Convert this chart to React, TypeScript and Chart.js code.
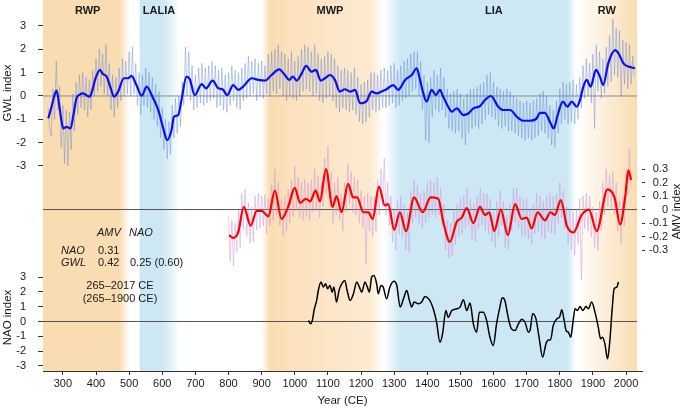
import React, { useEffect, useRef } from 'react';
import { Chart, registerables } from 'chart.js';
Chart.register(...registerables);

const FONT = '"Liberation Sans", Arial, Helvetica, sans-serif';

// ---------- axis ticks ----------
const xTicks = [300, 400, 500, 600, 700, 800, 900, 1000, 1100, 1200, 1300, 1400, 1500, 1600, 1700, 1800, 1900, 2000];
const gwlTicks = [-3, -2, -1, 0, 1, 2, 3];
const amvTicks = [-0.3, -0.2, -0.1, 0, 0.1, 0.2, 0.3];
const naoTicks = [-3, -2, -1, 0, 1, 2, 3];

// ---------- periods ----------
const periodNames = ['RWP', 'LALIA', 'MWP', 'LIA', 'RW'];
const periodLabelYears = [375, 590, 1106, 1601, 1942];
const bandKinds = ['warm', 'cold', 'warm', 'cold', 'warm'];
const bandStopYears = [
  [240, 470, 502],
  [532, 600, 655],
  [900, 925, 990, 1230, 1265],
  [1272, 1318, 1825, 1848],
  [1848, 2033],
];
const bandStopAlpha = [
  [1, 1, 0],
  [1, 1, 0],
  [0, 1, 0.85, 0.6, 0],
  [0, 1, 1, 0],
  [0, 1],
];
const zeroLineYears = [240, 2033];

// ---------- GWL smoothed (year, value) ----------
const gwlSmooth: [number, number][] = [
  [256, -0.96], [266, -0.45], [274, 0.0], [281, 0.23], [288, -0.3], [295, -1.0], [301, -1.39], [311, -1.32], [323, -1.39], [332, -0.8],
  [341, -0.1], [351, 0.06], [361, 0.11], [371, 0.03], [381, -0.03], [389, 0.25], [397, 0.69], [412, 1.12], [420, 0.95], [432, 0.83],
  [443, 0.4], [454, -0.03], [467, 0.19], [484, 0.76], [497, 0.76], [507, 0.86], [522, 0.47], [538, 0.01], [553, 0.4], [568, 0.04],
  [588, -0.6], [603, -1.39], [615, -1.89], [628, -1.46], [635, -0.89], [648, -0.82], [658, -0.17], [673, 0.83], [683, 0.72], [698, 0.04],
  [719, 0.51], [732, 0.33], [752, 0.66], [769, 0.33], [782, 0.29], [796, 0.04], [814, 0.47], [829, 0.26], [844, 0.4], [870, 0.76],
  [890, 0.69], [910, 0.66], [930, 0.9], [953, 1.14], [970, 0.9], [983, 0.69], [994, 0.83], [1006, 0.66], [1021, 0.97], [1034, 1.29],
  [1051, 1.04], [1064, 1.12], [1078, 0.66], [1091, 0.76], [1106, 0.9], [1121, 0.69], [1136, 0.19], [1151, 0.29], [1167, 0.19], [1182, 0.26],
  [1197, -0.31], [1217, -0.21], [1232, 0.19], [1247, 0.11], [1262, 0.19], [1277, 0.29], [1297, 0.47], [1312, 0.26], [1333, 0.69], [1353, 0.9],
  [1368, 1.19], [1378, 0.69], [1388, 0.11], [1398, -0.24], [1413, 0.26], [1426, 0.04], [1438, 0.26], [1447, 0.0], [1463, -0.46], [1474, -0.67],
  [1489, -0.53], [1509, -0.82], [1524, -0.75], [1539, -0.53], [1559, -0.43], [1574, -0.17], [1592, 0.0], [1614, -0.46], [1629, -0.6], [1650, -0.6],
  [1670, -0.89], [1690, -1.06], [1710, -1.06], [1730, -0.96], [1740, -0.72], [1755, -0.72], [1772, -1.17], [1782, -1.39], [1792, -0.89], [1809, -0.24],
  [1823, -0.46], [1836, -0.24], [1851, -0.46], [1861, -0.17], [1871, 0.4], [1881, 0.69], [1893, 0.4], [1909, 1.12], [1921, 0.83], [1931, 0.47],
  [1946, 1.4], [1967, 1.97], [1977, 1.83], [1992, 1.4], [2007, 1.26], [2027, 1.19],
];

// ---------- GWL raw, 5-year readings ----------
const gwlRaw255 = [
  -0.5, -1.4, -1.7, 0.3, -1.0, 1.5, -0.6, 0.4, -2.2, -0.4,
  -2.9, -0.6, -3.0, -0.7, -2.3, 0.1, -1.5, 0.6, -0.8, 0.9,
  -0.5, 1.0, -0.6, 0.8, -0.9, 0.7, -0.6, 1.1, 0.0,
];
const gwlRaw400 = [
  1.6, 0.2, 2.0, 0.4, 1.8, 0.1, 2.2, 0.0, 1.4, -0.6,
  0.9, -0.9, 0.8, -0.5, 1.2, -0.2, 1.6, 0.0, 1.5, 0.1,
  1.9, 0.0, 2.1, 0.1, 1.4, -0.4, 1.0, -0.8, 0.9, -0.4,
  1.2, -0.5, 1.0, -0.7, 0.8, -1.0, 0.5, -1.3, 0.2, -1.8,
];
const gwlRaw600 = [
  -0.5, -2.3, -1.0, -2.7, -1.1, -2.5, -0.4, -1.8, -0.1, -1.6,
  0.0, -1.3, 0.6, -0.4, 2.1, 0.0, 1.9, -0.2, 1.3, -0.6,
  0.9, -0.5, 1.2, -0.3, 1.4, -0.4, 1.2, -0.3, 1.3, -0.2,
  1.5, -0.1, 1.3, -0.5, 1.1, -0.4, 1.2, -0.6, 0.9, -0.7,
];
const gwlRaw800 = [
  1.0, -0.4, 1.3, -0.2, 1.1, -0.5, 1.0, -0.6, 1.2, -0.2,
  1.4, -0.1, 1.7, 0.0, 1.5, 0.1, 1.6, -0.2, 1.4, 0.0,
  1.5, -0.1, 1.3, 0.1, 1.8, 0.0, 1.9, 0.2, 2.0, 0.1,
  2.2, 0.3, 1.9, 0.0, 1.8, -0.2, 1.6, 0.0, 1.9, -0.1,
];
const gwlRaw1000 = [
  1.5, -0.2, 1.7, 0.0, 2.0, 0.2, 2.2, 0.3, 2.1, 0.2,
  1.9, 0.0, 2.2, 0.1, 1.8, -0.2, 1.6, -0.3, 1.7, -0.1,
  1.9, 0.0, 1.8, -0.2, 1.6, -0.5, 1.3, -0.7, 1.1, -0.5,
  1.2, -0.6, 1.1, -0.7, 1.0, -0.6, 1.2, -0.8, 0.8, -1.1,
];
const gwlRaw1200 = [
  0.5, -1.2, 0.6, -1.1, 0.7, -0.9, 1.0, -0.6, 1.0, -0.7,
  0.9, -0.6, 1.1, -0.5, 1.2, -0.5, 1.1, -0.4, 1.3, -0.3,
  1.4, -0.5, 1.1, -0.4, 1.3, -0.2, 1.5, -0.1, 1.6, 0.0,
  1.8, 0.2, 1.9, 0.3, 1.9, 0.0, 1.5, -0.6, 0.9, -1.9,
];
const gwlRaw1400 = [
  0.6, -2.0, 0.8, -0.9, 1.1, -0.6, 0.9, -0.7, 1.2, -0.6,
  0.8, -0.9, 0.3, -1.4, 0.1, -1.5, 0.2, -1.6, 0.3, -1.5,
  0.1, -1.8, -0.1, -2.1, 0.1, -1.6, 0.3, -1.4, 0.3, -1.3,
  0.4, -1.4, 0.5, -1.2, 0.6, -1.0, 0.9, -0.8, 1.0, -0.9,
];
const gwlRaw1600 = [
  0.6, -1.0, 0.4, -1.3, 0.3, -1.4, 0.2, -1.3, 0.3, -1.5,
  0.2, -1.5, 0.0, -1.6, -0.1, -1.7, -0.2, -1.8, -0.3, -1.9,
  -0.2, -1.8, -0.3, -1.9, -0.2, -1.8, -0.1, -1.7, 0.1, -1.5,
  0.2, -1.6, 0.0, -1.8, -0.4, -2.1, -0.6, -2.2, -0.2, -1.6,
];
const gwlRaw1800 = [
  0.3, -1.2, 0.6, -1.0, 0.5, -1.2, 0.6, -1.1, 0.7, -1.2,
  0.5, -1.0, 0.8, -0.5, 1.3, -0.1, 1.6, 0.0, 1.4, -0.3,
  1.8, -1.4, 2.2, 0.2, 1.9, -0.1, 1.6, 0.1, 2.1, 0.4,
  2.6, 0.6, 3.3, 0.9, 2.9, 0.8, 2.8, 0.0, 2.4, 0.5,
  2.3, 0.3, 2.2, 0.5, 1.7, 0.8,
];

// ---------- AMV smoothed (year, value) ----------
const amvSmooth: [number, number][] = [
  [802, -0.19], [814, -0.21], [829, -0.17], [846, 0.02], [867, -0.12], [885, -0.01], [900, -0.01], [920, -0.05], [940, 0.14], [960, -0.07],
  [980, 0.02], [1000, 0.16], [1016, 0.05], [1034, 0.08], [1046, 0.06], [1063, 0.14], [1076, 0.06], [1094, 0.3], [1114, 0.02], [1126, 0.1],
  [1141, -0.02], [1161, 0.19], [1176, 0.09], [1188, 0.09], [1207, -0.02], [1222, -0.02], [1235, -0.07], [1254, 0.17], [1272, 0.03], [1282, 0.04],
  [1300, -0.15], [1317, -0.02], [1336, -0.16], [1360, 0.09], [1386, -0.02], [1410, 0.09], [1433, 0.08], [1448, -0.09], [1468, -0.24], [1489, -0.09],
  [1504, -0.06], [1519, 0.01], [1539, -0.1], [1559, 0.02], [1574, -0.04], [1587, -0.02], [1602, -0.16], [1622, 0.0], [1643, -0.19], [1665, 0.04],
  [1685, -0.07], [1700, -0.06], [1715, -0.14], [1733, -0.02], [1755, -0.08], [1772, -0.02], [1785, -0.04], [1803, 0.07], [1821, -0.12], [1841, -0.17],
  [1866, -0.04], [1888, 0.0], [1911, -0.16], [1944, 0.15], [1965, 0.09], [1982, -0.11], [1997, 0.09], [2007, 0.29], [2015, 0.22],
];

// ---------- AMV raw, 5-year readings ----------
const amvRaw800 = [
  -0.05, -0.38, -0.08, -0.42, -0.1, -0.32, 0.0, -0.28, 0.12, -0.15,
  0.15, -0.2, 0.05, -0.25, 0.02, -0.24, 0.1, -0.15, 0.12, -0.14,
  0.1, -0.12, 0.11, -0.18, 0.08, -0.12, 0.18, -0.08, 0.3, -0.04,
  0.2, -0.12, 0.08, -0.2, 0.1, -0.16, 0.15, -0.1, 0.22, -0.05,
];
const amvRaw1000 = [
  0.32, 0.0, 0.24, -0.06, 0.2, -0.08, 0.22, -0.05, 0.2, -0.08,
  0.22, -0.02, 0.3, 0.0, 0.25, -0.06, 0.2, 0.02, 0.38, 0.12,
  0.47, 0.1, 0.28, -0.1, 0.2, -0.04, 0.24, -0.08, 0.12, -0.16,
  0.2, -0.02, 0.34, 0.04, 0.28, -0.02, 0.24, -0.04, 0.22, -0.1,
];
const amvRaw1200 = [
  0.14, -0.14, 0.1, -0.4, 0.12, -0.16, 0.1, -0.2, 0.1, -0.16,
  0.22, -0.04, 0.3, 0.02, 0.38, -0.04, 0.2, -0.12, 0.1, -0.24,
  0.0, -0.3, 0.06, -0.18, 0.1, -0.2, 0.04, -0.3, -0.02, -0.32,
  0.14, -0.1, 0.22, -0.06, 0.18, -0.1, 0.12, -0.14, 0.14, -0.1,
];
const amvRaw1400 = [
  0.2, -0.06, 0.22, -0.04, 0.2, -0.06, 0.24, -0.04, 0.16, -0.12,
  0.04, -0.3, -0.08, -0.36, -0.1, -0.34, 0.0, -0.26, 0.04, -0.2,
  0.08, -0.18, 0.1, -0.14, 0.16, -0.12, 0.08, -0.22, 0.04, -0.24,
  0.1, -0.14, 0.16, -0.12, 0.12, -0.16, 0.12, -0.18, 0.08, -0.24,
];
const amvRaw1600 = [
  -0.02, -0.28, 0.06, -0.2, 0.14, -0.12, 0.06, -0.28, -0.04, -0.3,
  0.04, -0.16, 0.16, -0.1, 0.16, -0.14, 0.1, -0.2, 0.08, -0.2,
  0.08, -0.22, 0.0, -0.26, 0.04, -0.18, 0.12, -0.16, 0.1, -0.2,
  0.06, -0.22, 0.1, -0.16, 0.12, -0.18, 0.1, -0.18, 0.12, -0.1,
];
const amvRaw1800 = [
  0.2, -0.06, 0.14, -0.14, 0.02, -0.26, 0.0, -0.3, -0.02, -0.34,
  0.0, -0.26, 0.08, -0.52, 0.1, -0.14, 0.12, -0.16, 0.1, -0.2,
  0.02, -0.28, -0.02, -0.3, 0.06, -0.16, 0.2, -0.04, 0.3, 0.02,
  0.26, 0.0, 0.28, -0.04, 0.2, -0.16, 0.06, -0.26, 0.1, -0.12,
  0.3, 0.1, 0.45, 0.16,
];

// ---------- NAO (year, value) ----------
const naoSeries: [number, number][] = [
  [1041, 0.07], [1048, -0.16], [1054, 0.18], [1058, 0.74], [1066, 1.42], [1071, 2.09], [1079, 2.66], [1086, 2.32], [1093, 2.55], [1099, 2.21],
  [1106, 2.43], [1113, 1.98], [1118, 2.32], [1126, 1.31], [1134, 2.14], [1143, 2.59], [1151, 2.77], [1158, 2.09], [1167, 1.42], [1177, 1.87],
  [1187, 2.66], [1195, 2.32], [1202, 1.98], [1212, 2.66], [1219, 2.32], [1225, 1.98], [1232, 2.99], [1239, 3.1], [1247, 2.55], [1252, 1.87],
  [1260, 2.43], [1267, 2.32], [1277, 1.53], [1287, 2.32], [1299, 2.72], [1308, 2.43], [1318, 0.97], [1328, 1.53], [1338, 2.09], [1346, 1.42],
  [1353, 0.97], [1360, 1.31], [1373, 1.19], [1383, 1.31], [1393, 1.69], [1406, 1.47], [1418, 0.86], [1428, -0.05], [1438, -1.4], [1446, -0.83],
  [1456, 0.74], [1463, 0.29], [1474, 0.74], [1489, 0.86], [1499, 0.97], [1509, 1.47], [1519, 0.74], [1529, 1.24], [1539, -0.16], [1549, -0.72],
  [1557, 0.63], [1569, 0.63], [1579, 0.07], [1589, -1.06], [1599, -1.62], [1609, -0.16], [1619, 0.97], [1626, 1.6], [1634, 1.42], [1644, 0.29],
  [1654, -0.5], [1665, -0.61], [1675, -0.16], [1685, 0.16], [1695, -0.05], [1705, -0.72], [1710, -0.61], [1718, 0.52], [1728, 0.18], [1738, -1.17],
  [1748, -2.41], [1758, -1.51], [1765, -1.24], [1772, -1.24], [1780, -0.27], [1791, 0.18], [1799, 0.29], [1806, 0.79], [1813, 0.07], [1819, -0.61],
  [1826, -0.72], [1833, -1.06], [1839, -0.16], [1846, 0.86], [1853, 0.74], [1861, 1.01], [1869, 0.74], [1879, 1.01], [1886, 0.86], [1896, 1.31],
  [1906, 0.63], [1916, -0.38], [1923, -1.17], [1929, -1.06], [1936, -1.51], [1944, -2.52], [1951, -1.28], [1958, 0.86], [1964, 2.21], [1972, 2.32],
  [1977, 2.66],
];

// ---------- correlation table text ----------
const tableHeaders = ['AMV', 'NAO'];
const tableRowNames = ['NAO', 'GWL'];
const tableValues = [['0.31', ''], ['0.42', '0.25 (0.60)']];
const tablePeriods = ['265–2017 CE', '(265–1900 CE)'];

// ---------- helpers ----------
const RAW_STEP = 5;
const rawPoints = (start: number, vals: number[]) => vals.map((v, i) => ({ x: start + i * RAW_STEP, y: v }));
const pairPoints = (arr: [number, number][]) => arr.map(([x, y]) => ({ x, y }));

const WARM = [250, 220, 178];
const COLD = [205, 232, 244];

const bandPlugin = {
  id: 'bands',
  afterLayout(chart: any) {
    // let the inner NAO axis share the left margin so its labels are not clipped
    const s = chart.scales.yN;
    if (s) { s.left = 0; s.width = s.right - s.left; }
  },
  beforeDatasetsDraw(chart: any) {
    const { ctx, chartArea, scales } = chart;
    const xs = scales.x;
    ctx.save();
    bandStopYears.forEach((stops, i) => {
      const c = bandKinds[i] === 'warm' ? WARM : COLD;
      const x0 = xs.getPixelForValue(stops[0]);
      const x1 = xs.getPixelForValue(stops[stops.length - 1]);
      const g = ctx.createLinearGradient(x0, 0, x1, 0);
      stops.forEach((yr, j) => {
        const p = (xs.getPixelForValue(yr) - x0) / (x1 - x0);
        g.addColorStop(Math.min(1, Math.max(0, p)), `rgba(${c[0]},${c[1]},${c[2]},${bandStopAlpha[i][j]})`);
      });
      ctx.fillStyle = g;
      ctx.fillRect(x0, chartArea.top, x1 - x0, chartArea.bottom - chartArea.top);
    });
    ctx.restore();
  },
};

const textPlugin = {
  id: 'texts',
  afterDraw(chart: any) {
    const { ctx, scales } = chart;
    const xs = scales.x;
    ctx.save();
    ctx.fillStyle = '#1a1a1a';
    ctx.textBaseline = 'middle';
    ctx.font = `bold 11px ${FONT}`;
    ctx.textAlign = 'center';
    periodNames.forEach((n, i) => ctx.fillText(n, xs.getPixelForValue(periodLabelYears[i]), 11));
    ctx.font = `11.5px ${FONT}`;
    const rot = (t: string, x: number, y: number) => {
      ctx.save();
      ctx.translate(x, y);
      ctx.rotate(-Math.PI / 2);
      ctx.textAlign = 'center';
      ctx.fillText(t, 0, 0);
      ctx.restore();
    };
    rot('GWL index', 8, scales.yG.getPixelForValue(0) - 3);
    rot('NAO index', 8, scales.yN.getPixelForValue(0) - 4);
    rot('AMV index', 677, scales.yA.getPixelForValue(0) + 2);
    ctx.font = `italic 11px ${FONT}`;
    ctx.textAlign = 'left';
    ctx.fillText(tableHeaders[0], 97, 233);
    ctx.fillText(tableHeaders[1], 129, 233);
    ctx.fillText(tableRowNames[0], 61, 251);
    ctx.fillText(tableRowNames[1], 61, 263);
    ctx.font = `11px ${FONT}`;
    ctx.fillText(tableValues[0][0], 98, 251);
    ctx.fillText(tableValues[1][0], 98, 263);
    ctx.fillText(tableValues[1][1], 130, 263);
    ctx.textAlign = 'center';
    ctx.fillText(tablePeriods[0], 120, 286);
    ctx.fillText(tablePeriods[1], 120, 299);
    ctx.restore();
  },
};

const tickFont = { family: FONT, size: 11 };
const noPad = (s: any) => { s.paddingTop = 0; s.paddingBottom = 0; s.paddingLeft = 0; s.paddingRight = 0; };

export default function App() {
  const ref = useRef<HTMLCanvasElement | null>(null);
  useEffect(() => {
    document.body.style.margin = '0';
    const canvas = ref.current;
    if (!canvas) return;
    const zero = (axis: string, color: string) => ({
      data: zeroLineYears.map((x) => ({ x, y: 0 })),
      yAxisID: axis,
      borderColor: color,
      borderWidth: 1,
      pointRadius: 0,
      order: 10,
    });
    const gwlRawData = [
      ...rawPoints(255, gwlRaw255), ...rawPoints(400, gwlRaw400), ...rawPoints(600, gwlRaw600),
      ...rawPoints(800, gwlRaw800), ...rawPoints(1000, gwlRaw1000), ...rawPoints(1200, gwlRaw1200),
      ...rawPoints(1400, gwlRaw1400), ...rawPoints(1600, gwlRaw1600), ...rawPoints(1800, gwlRaw1800),
    ];
    const amvRawData = [
      ...rawPoints(800, amvRaw800), ...rawPoints(1000, amvRaw1000), ...rawPoints(1200, amvRaw1200),
      ...rawPoints(1400, amvRaw1400), ...rawPoints(1600, amvRaw1600), ...rawPoints(1800, amvRaw1800),
    ];
    const chart = new Chart(canvas, {
      type: 'line',
      data: {
        datasets: [
          zero('yG', '#8a8a8a'),
          zero('yA', '#555555'),
          zero('yN', '#555555'),
          { data: gwlRawData, yAxisID: 'yG', borderColor: 'rgba(90,130,205,0.5)', borderWidth: 0.8, pointRadius: 0, tension: 0, order: 5 } as any,
          { data: amvRawData, yAxisID: 'yA', borderColor: 'rgba(205,150,220,0.6)', borderWidth: 0.8, pointRadius: 0, tension: 0, order: 5 } as any,
          { data: pairPoints(gwlSmooth), yAxisID: 'yG', borderColor: '#0a10f0', borderWidth: 2.2, pointRadius: 0, cubicInterpolationMode: 'monotone', order: 1 } as any,
          { data: pairPoints(amvSmooth), yAxisID: 'yA', borderColor: '#ff0000', borderWidth: 2.2, pointRadius: 0, cubicInterpolationMode: 'monotone', order: 1 } as any,
          { data: pairPoints(naoSeries), yAxisID: 'yN', borderColor: '#000000', borderWidth: 1.5, pointRadius: 0, cubicInterpolationMode: 'monotone', order: 1 } as any,
        ],
      },
      options: {
        responsive: false,
        animation: false,
        devicePixelRatio: 1,
        events: [],
        layout: { padding: { left: 0, right: 17, top: 0, bottom: 0 } },
        plugins: { legend: { display: false }, tooltip: { enabled: false } },
        scales: {
          x: {
            type: 'linear',
            position: 'bottom',
            min: 240,
            max: 2048,
            afterBuildTicks: (s: any) => { s.ticks = xTicks.map((v) => ({ value: v })); },
            afterFit: (s: any) => { s.height = 38; noPad(s); },
            grid: { display: true, drawOnChartArea: false, drawTicks: true, tickLength: 4, color: '#333' },
            border: { display: true, color: '#333', width: 1 },
            ticks: { font: tickFont, color: '#1a1a1a', padding: 2, maxRotation: 0, autoSkip: false, callback: (v: any) => String(v) },
            title: { display: true, text: 'Year (CE)', font: { family: FONT, size: 11.5 }, color: '#1a1a1a', padding: { top: 0, bottom: 1 } },
          },
          yG: {
            type: 'linear',
            position: 'left',
            weight: 1,
            min: -11.786,
            max: 4.114,
            afterBuildTicks: (s: any) => { s.ticks = gwlTicks.map((v) => ({ value: v })); },
            afterFit: (s: any) => { s.width = 43; noPad(s); },
            grid: { display: true, drawOnChartArea: false, drawTicks: true, tickLength: 5, color: '#333' },
            border: { display: false },
            ticks: { font: tickFont, color: '#1a1a1a', padding: 12, autoSkip: false, callback: (v: any) => String(v) },
          },
          yN: {
            type: 'linear',
            position: 'left',
            weight: 0,
            min: -3.338,
            max: 21.68,
            afterBuildTicks: (s: any) => { s.ticks = naoTicks.map((v) => ({ value: v })); },
            afterFit: (s: any) => { s.width = 0; noPad(s); },
            grid: { display: true, drawOnChartArea: false, drawTicks: true, tickLength: 5, color: '#333' },
            border: { display: false },
            ticks: { font: tickFont, color: '#1a1a1a', padding: 12, autoSkip: false, callback: (v: any) => String(v) },
          },
          yA: {
            type: 'linear',
            position: 'right',
            min: -1.196,
            max: 1.552,
            afterBuildTicks: (s: any) => { s.ticks = amvTicks.map((v) => ({ value: v })); },
            afterFit: (s: any) => { s.width = 26; noPad(s); },
            grid: { display: true, drawOnChartArea: false, drawTicks: true, tickLength: 3, color: '#333' },
            border: { display: false },
            ticks: { font: tickFont, color: '#1a1a1a', padding: 3, crossAlign: 'far', autoSkip: false, callback: (v: any) => String(v) },
          },
        },
      } as any,
      plugins: [bandPlugin, textPlugin],
    });
    return () => chart.destroy();
  }, []);
  return <canvas ref={ref} width={685} height={409} style={{ display: 'block' }} />;
}
